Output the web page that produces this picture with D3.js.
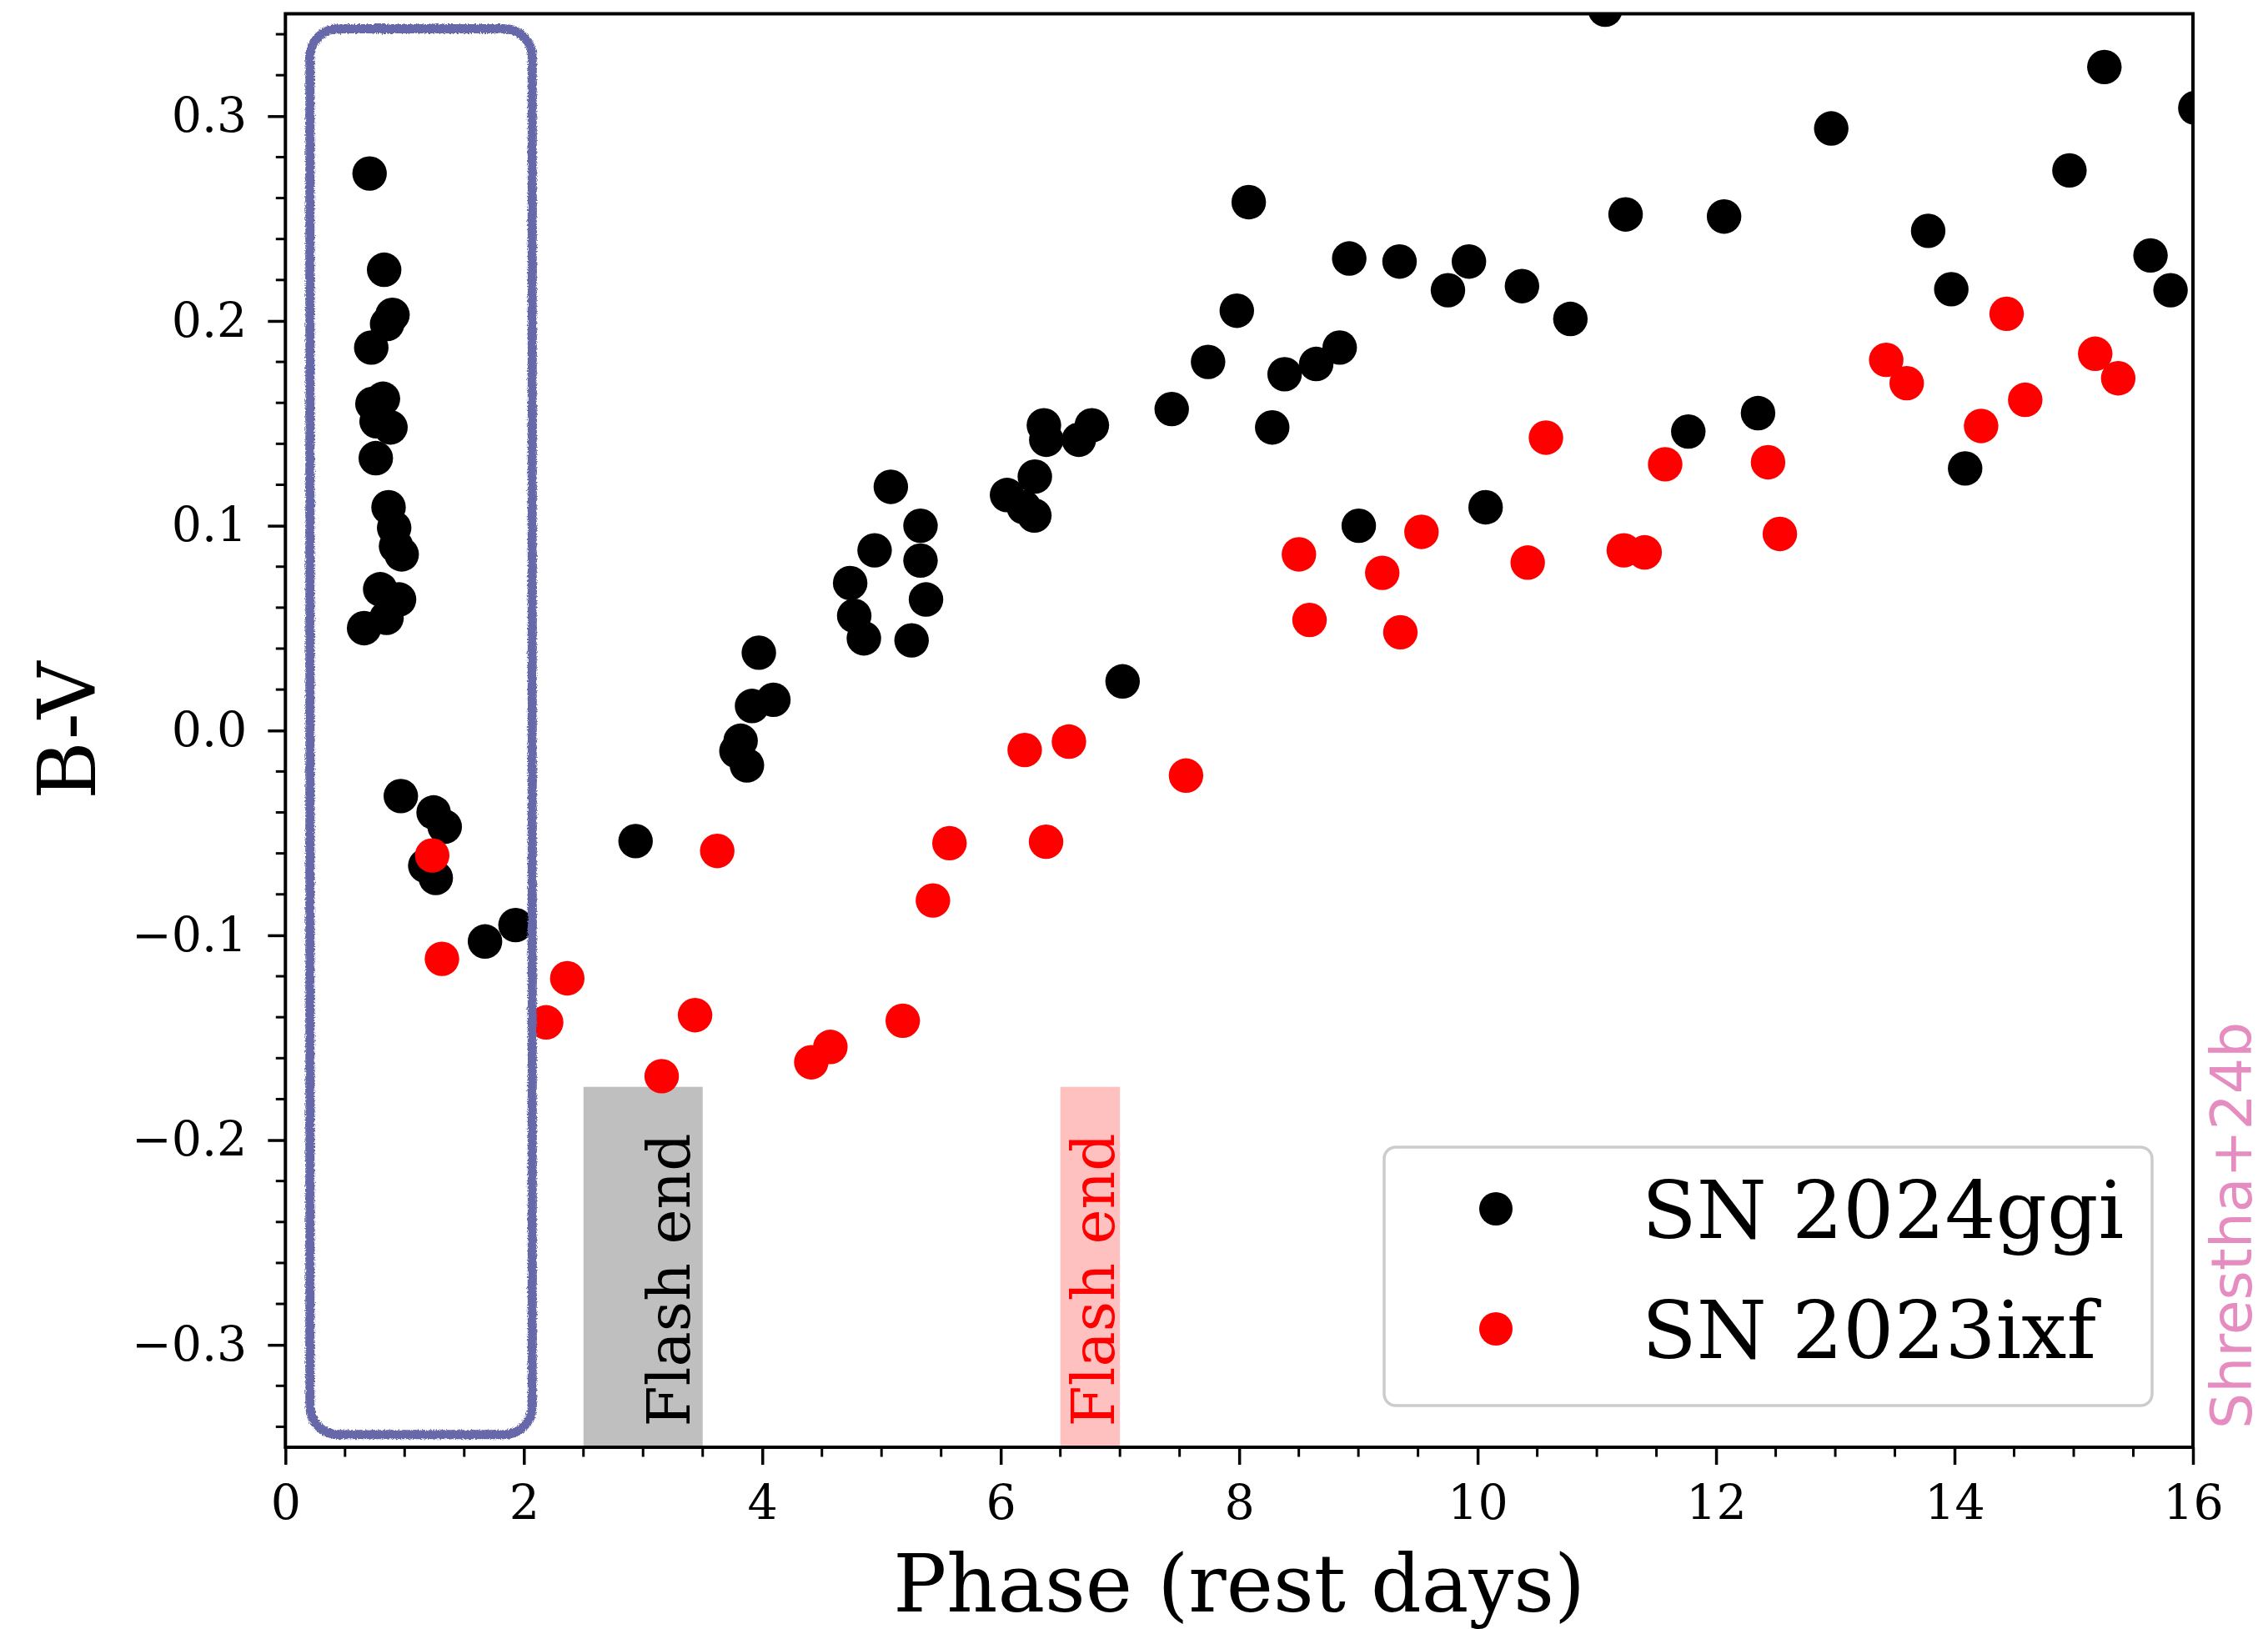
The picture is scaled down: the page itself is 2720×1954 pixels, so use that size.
<!DOCTYPE html>
<html>
<head>
<meta charset="utf-8">
<script src="https://cdn.jsdelivr.net/npm/d3@7"></script>
<style>
  html, body { margin: 0; padding: 0; background: #ffffff; }
  svg { display: block; }
</style>
</head>
<body>
<script>
// ---------- Data ----------
const ggiPhase = [0.706,0.828,0.898,0.853,0.720,0.818,0.730,0.765,0.881,0.758,0.865,0.912,0.928,0.975,0.795,0.953,0.848,0.660,
  0.968,1.243,1.336,1.173,1.261,1.674,1.930,2.937,3.971,4.093,3.914,3.818,3.783,3.871,4.942,4.737,4.771,4.852,
  5.327,5.327,5.373,5.252,5.078,7.022,6.362,6.382,6.764,6.655,6.286,6.053,6.194,6.282,7.434,7.739,7.980,8.080,
  8.277,8.381,8.646,8.843,8.923,9.003,9.345,9.751,9.927,10.067,10.372,10.778,11.07,11.241,11.767,12.067,12.352,
  12.966,13.779,13.973,14.089,14.964,15.257,15.644,15.812,16.02];
const ggiBV = [0.272,0.225,0.203,0.1985,0.187,0.162,0.1595,0.151,0.148,0.133,0.109,0.099,0.090,0.086,0.069,0.064,0.055,0.050,
  -0.032,-0.040,-0.047,-0.066,-0.072,-0.103,-0.095,-0.054,0.038,0.015,0.012,-0.005,-0.010,-0.017,0.088,0.072,0.056,0.045,
  0.100,0.083,0.064,0.044,0.119,0.024,0.149,0.142,0.149,0.142,0.124,0.115,0.109,0.105,0.157,0.180,0.205,0.258,
  0.148,0.174,0.179,0.187,0.2305,0.100,0.229,0.215,0.229,0.109,0.217,0.201,0.352,0.252,0.146,0.251,0.155,
  0.294,0.244,0.2155,0.128,0.2735,0.324,0.232,0.215,0.304];

const ixfPhase = [1.231,1.313,2.187,2.364,3.156,3.436,3.622,4.411,4.571,5.178,5.431,5.570,6.201,6.380,6.572,7.554,
  8.501,8.590,9.200,9.529,9.352,10.420,10.573,11.226,11.401,11.573,12.436,12.535,13.427,13.599,14.223,14.437,
  14.593,15.180,15.373];
const ixfBV = [-0.061,-0.1115,-0.1425,-0.121,-0.1688,-0.139,-0.0588,-0.162,-0.1545,-0.1417,-0.083,-0.055,-0.0095,-0.0543,-0.0054,-0.022,
  0.086,0.054,0.077,0.097,0.048,0.082,0.143,0.088,0.087,0.130,0.131,0.096,0.181,0.1696,0.1487,0.2035,
  0.1615,0.184,0.172];

const seriesNames = ["SN 2024ggi", "SN 2023ixf"];
const seriesColors = ["#000000", "#ff0000"];

// Flash-end shaded spans: [x0, x1, yTop]
const flashSpans = [[2.5, 3.5, -0.174], [6.5, 7.0, -0.174]];
const flashLabelX = [3.39, 6.95];
const flashLabel = "Flash end";

// Sketch box around early data (data coords)
const boxX = [0.206, 2.07];
const boxY = [-0.3438, 0.3427];

const xTicks = [0, 2, 4, 6, 8, 10, 12, 14, 16];
const yTicks = [-0.3, -0.2, -0.1, 0.0, 0.1, 0.2, 0.3];
const xDomain = [0, 16];
const yDomain = [-0.35, 0.35];

// ---------- Layout ----------
const W = 2720, H = 1954;
const L = 342.3, R = 2630, T = 16.5, B = 1736;
const serif = "'DejaVu Serif', serif";

const svg = d3.select("body").append("svg").attr("width", W).attr("height", H);

const x = d3.scaleLinear().domain(xDomain).range([L, R]);
const y = d3.scaleLinear().domain(yDomain).range([B, T]);

const defs = svg.append("defs");
defs.append("clipPath").attr("id", "plotclip")
  .append("rect").attr("x", L).attr("y", T).attr("width", R - L).attr("height", B - T);

const rough = defs.append("filter").attr("id", "rough")
  .attr("x", "-5%").attr("y", "-5%").attr("width", "110%").attr("height", "110%");
rough.append("feTurbulence").attr("type", "fractalNoise").attr("baseFrequency", 0.6)
  .attr("numOctaves", 2).attr("seed", 3).attr("result", "noise");
rough.append("feDisplacementMap").attr("in", "SourceGraphic").attr("in2", "noise")
  .attr("scale", 5).attr("xChannelSelector", "R").attr("yChannelSelector", "G");

const plot = svg.append("g").attr("clip-path", "url(#plotclip)");

// Shaded spans
plot.selectAll("rect.span").data(flashSpans).enter().append("rect")
  .attr("class", "span")
  .attr("x", d => x(d[0])).attr("width", d => x(d[1]) - x(d[0]))
  .attr("y", d => y(d[2])).attr("height", d => y(yDomain[0]) - y(d[2]))
  .attr("fill", (d, i) => i === 0 ? "#bfbfbf" : "#ffc0c0");

// Flash end labels
flashLabelX.forEach((lx, i) => {
  plot.append("text")
    .attr("transform", `translate(${x(lx)},${y(-0.34)}) rotate(-90)`)
    .attr("font-family", serif).attr("font-size", 71)
    .attr("fill", i === 0 ? "#000000" : "#ff0000")
    .attr("text-anchor", "start")
    .text(flashLabel);
});

// Points
const ggi = ggiPhase.map((p, i) => ({ x: p, y: ggiBV[i] }));
const ixf = ixfPhase.map((p, i) => ({ x: p, y: ixfBV[i] }));
[ggi, ixf].forEach((ser, si) => {
  plot.append("g").selectAll("circle").data(ser).enter().append("circle")
    .attr("cx", d => x(d.x)).attr("cy", d => y(d.y)).attr("r", 20.7)
    .attr("fill", seriesColors[si]);
});

// Sketch box
const bx0 = x(boxX[0]), bx1 = x(boxX[1]), by0 = y(boxY[1]), by1 = y(boxY[0]);
plot.append("rect")
  .attr("x", bx0).attr("y", by0).attr("width", bx1 - bx0).attr("height", by1 - by0)
  .attr("rx", 34).attr("ry", 34)
  .attr("fill", "none").attr("stroke", "#6668aa").attr("stroke-width", 11)
  .attr("filter", "url(#rough)");

// ---------- Axes ----------
const fmtY = d3.format(".1f");
const xAxis = svg.append("g").attr("transform", `translate(0,${B})`)
  .call(d3.axisBottom(x).tickValues(xTicks).tickFormat(d3.format("d")).tickSize(21).tickPadding(25));
const yAxis = svg.append("g").attr("transform", `translate(${L},0)`)
  .call(d3.axisLeft(y).tickValues(yTicks).tickFormat(d => fmtY(d)).tickSize(21).tickPadding(25));
[xAxis, yAxis].forEach(a => {
  a.select(".domain").remove();
  a.selectAll(".tick line").attr("stroke", "#000").attr("stroke-width", 3.5);
  a.selectAll(".tick text").attr("font-family", serif).attr("font-size", 57).attr("fill", "#000");
});

// Minor ticks
const xMinor = d3.range(0, 16.001, 0.5).filter(v => Math.abs(v % 2) > 1e-6);
const yMinor = d3.range(-0.34, 0.3401, 0.02).filter(v => Math.abs(Math.round(v * 10) - v * 10) > 1e-6);
svg.append("g").selectAll("line").data(xMinor).enter().append("line")
  .attr("x1", d => x(d)).attr("x2", d => x(d)).attr("y1", B).attr("y2", B + 11.5)
  .attr("stroke", "#000").attr("stroke-width", 3);
svg.append("g").selectAll("line").data(yMinor).enter().append("line")
  .attr("y1", d => y(d)).attr("y2", d => y(d)).attr("x1", L).attr("x2", L - 11.5)
  .attr("stroke", "#000").attr("stroke-width", 3);

// Frame
svg.append("rect").attr("x", L).attr("y", T).attr("width", R - L).attr("height", B - T)
  .attr("fill", "none").attr("stroke", "#000").attr("stroke-width", 4);

// Axis labels
svg.append("text").attr("x", (L + R) / 2).attr("y", 1933)
  .attr("text-anchor", "middle").attr("font-family", serif).attr("font-size", 95)
  .text("Phase (rest days)");
svg.append("text").attr("transform", `translate(114,${(T + B) / 2}) rotate(-90)`)
  .attr("text-anchor", "middle").attr("font-family", serif).attr("font-size", 95)
  .text("B-V");

// Legend
const lg = svg.append("g");
lg.append("rect").attr("x", 1660).attr("y", 1376).attr("width", 921).attr("height", 310)
  .attr("rx", 14).attr("fill", "#ffffff").attr("fill-opacity", 0.8)
  .attr("stroke", "#cccccc").attr("stroke-width", 3.5);
seriesNames.forEach((name, i) => {
  const cy = 1450 + i * 144;
  lg.append("circle").attr("cx", 1794).attr("cy", cy).attr("r", 20).attr("fill", seriesColors[i]);
  lg.append("text").attr("x", 1969).attr("y", cy + 35)
    .attr("font-family", serif).attr("font-size", 96).attr("fill", "#000").text(name);
});

// Credit text
svg.append("text").attr("transform", `translate(2700,1714) rotate(-90)`)
  .attr("text-anchor", "start").attr("font-family", "'DejaVu Sans', sans-serif")
  .attr("font-size", 68).attr("fill", "#e58cc0").text("Shrestha+24b");
</script>
</body>
</html>
